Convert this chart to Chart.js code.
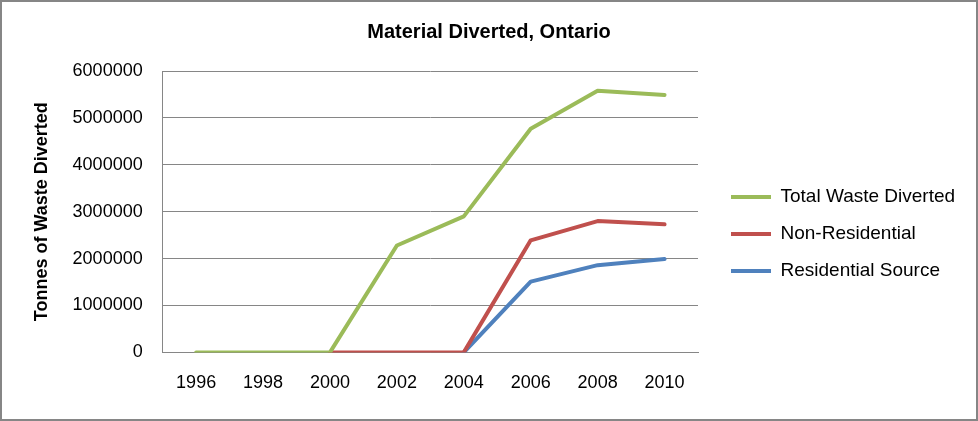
<!DOCTYPE html>
<html>
<head>
<meta charset="utf-8">
<script src="https://cdn.jsdelivr.net/npm/chart.js@4"></script>
<style>
  html, body { margin: 0; padding: 0; background: #fff; }
  #wrap { width: 978px; height: 421px; box-sizing: border-box; border: 2px solid #868686; }
</style>
</head>
<body>
<div id="wrap"><canvas id="myChart" width="974" height="417"></canvas></div>
<script>
var years = ['1996', '1998', '2000', '2002', '2004', '2006', '2008', '2010'];
var totalDiverted = [0, 0, 0, 2280000, 2900000, 4770000, 5580000, 5490000];
var nonResidential = [null, null, 0, 0, 0, 2390000, 2800000, 2730000];
var residential = [null, null, null, null, 0, 1510000, 1860000, 1990000];
var yTicks = [0, 1000000, 2000000, 3000000, 4000000, 5000000, 6000000];

var fontFamily = '"Liberation Sans", Arial, sans-serif';
Chart.defaults.font.family = fontFamily;
Chart.defaults.color = '#000';

// excel keeps a wide legend column on the right and sits the entries a bit lower
var legendWidth = 249;
var legendNudge = {
    id: 'legendNudge',
    afterInit: function (chart) {
        var lg = chart.legend;
        var origFit = lg.fit;
        lg.fit = function () {
            origFit.call(this);
            this.width = legendWidth;
        };
    },
    afterLayout: function (chart) {
        if (chart.legend) chart.legend._nudged = false;
    },
    beforeDraw: function (chart) {
        var lg = chart.legend;
        if (!lg || lg._nudged) return;
        lg.left += 15; lg.right += 15;
        lg.top += 26; lg.bottom += 26;
        lg._nudged = true;
    }
};

var ctx = document.getElementById('myChart');
var myChart = new Chart(ctx, {
    type: 'line',
    data: {
        labels: years,
        datasets: [
            { label: 'Total Waste Diverted', data: totalDiverted, borderColor: '#9BBB59', backgroundColor: '#9BBB59', borderWidth: 4 },
            { label: 'Non-Residential', data: nonResidential, borderColor: '#C0504D', backgroundColor: '#C0504D', borderWidth: 4 },
            { label: 'Residential Source', data: residential, borderColor: '#4F81BD', backgroundColor: '#4F81BD', borderWidth: 4 }
        ]
    },
    plugins: [legendNudge],
    options: {
        responsive: false,
        animation: false,
        layout: { padding: { left: 29, right: 29, top: 0, bottom: 5 } },
        elements: {
            line: { tension: 0, borderCapStyle: 'round', borderJoinStyle: 'round' },
            point: { radius: 0 }
        },
        plugins: {
            title: {
                display: true,
                text: 'Material Diverted, Ontario',
                font: { size: 20, weight: 'bold' },
                padding: { top: 18, bottom: 27 }
            },
            legend: {
                position: 'right',
                labels: {
                    usePointStyle: true,
                    pointStyle: 'line',
                    pointStyleWidth: 40,
                    boxWidth: 40,
                    padding: 18,
                    font: { size: 19 }
                }
            },
            tooltip: { enabled: false }
        },
        scales: {
            x: {
                offset: true,
                grid: { display: false, drawTicks: false },
                border: { color: '#868686', width: 1 },
                ticks: { padding: 20, font: { size: 18 }, maxRotation: 0 }
            },
            y: {
                min: 0,
                max: 6000000,
                afterBuildTicks: function (axis) {
                    axis.ticks = yTicks.map(function (v) { return { value: v }; });
                },
                grid: { color: '#868686', drawTicks: false },
                border: { color: '#868686', width: 1 },
                ticks: { padding: 20, font: { size: 18 }, callback: function (v) { return String(v); } },
                title: { display: true, text: 'Tonnes of Waste Diverted', font: { size: 18, weight: 'bold' }, padding: { top: 0, bottom: 0 } }
            }
        }
    }
});
</script>
</body>
</html>
